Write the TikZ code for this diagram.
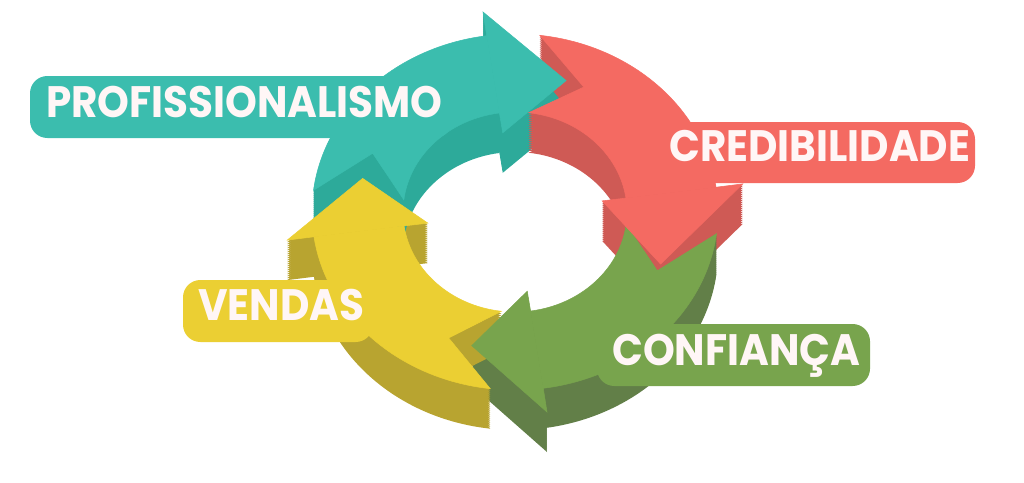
\documentclass[tikz,border=0pt]{standalone}
\usepackage{fontspec}
\newfontfamily\lblfont{Poppins}[FakeStretch=0.92]
\definecolor{tealtop}{HTML}{3BBDAE}
\definecolor{tealdk}{HTML}{2DAA9A}
\definecolor{redtop}{HTML}{F46A62}
\definecolor{reddk}{HTML}{CF5A55}
\definecolor{greentop}{HTML}{78A44D}
\definecolor{greendk}{HTML}{627F48}
\definecolor{yeltop}{HTML}{EBCF33}
\definecolor{yeldk}{HTML}{B8A430}
\definecolor{lbltxt}{HTML}{FFF6F6}
% tail angle, head angle, notch angle
\newcommand\ringbody[3]{(#1:203 and 178) arc[start angle=#1, end angle=#2, x radius=203, y radius=178] -- (#2:112 and 100) arc[start angle=#2, end angle=#1, x radius=112, y radius=100] -- (#3:157 and 139) -- cycle}
% head angle, tip angle
\newcommand\ringhead[2]{(#1:203 and 178) -- (#1:230 and 202) -- (#2:157 and 139) -- (#1:88 and 80) -- (#1:112 and 100) -- cycle}
\begin{document}
\begin{tikzpicture}[x=0.75pt,y=-0.75pt,
    lbl/.style={font=\lblfont\bfseries\fontsize{33}{33}\selectfont,text=lbltxt,inner sep=0pt,anchor=base west},
    top/.style={fill=#1,draw=#1,line width=0.4pt}]
    \useasboundingbox (0,0) rectangle (1024,482);
    \begin{scope}[shift={(515,212)}]
        % head walls, behind the next tail
        \foreach \d in {2,4,...,40} {\fill[tealdk,shift={(0,\d)}] \ringhead{262}{289};}
        \foreach \d in {2,4,...,40} {\fill[reddk,shift={(0,\d)}] \ringhead{352}{382};}
        \foreach \d in {2,4,...,40} {\fill[greendk,shift={(0,\d)}] \ringhead{82}{106};}
        \foreach \d in {2,4,...,40} {\fill[yeldk,shift={(0,\d)}] \ringhead{172}{194};}
        % bodies
        \foreach \d in {2,4,...,40} {\fill[tealdk,shift={(0,\d)}] \ringbody{187}{262}{205};}
        \path[top=tealtop] \ringbody{187}{262}{205};
        \foreach \d in {2,4,...,40} {\fill[reddk,shift={(0,\d)}] \ringbody{277}{352}{296};}
        \path[top=redtop] \ringbody{277}{352}{296};
        \foreach \d in {2,4,...,40} {\fill[greendk,shift={(0,\d)}] \ringbody{7}{82}{25};}
        \path[top=greentop] \ringbody{7}{82}{25};
        \foreach \d in {2,4,...,40} {\fill[yeldk,shift={(0,\d)}] \ringbody{97}{172}{115};}
        \path[top=yeltop] \ringbody{97}{172}{115};
        % head tops
        \path[top=tealtop] \ringhead{262}{289};
        \path[top=redtop] \ringhead{352}{382};
        \path[top=greentop] \ringhead{82}{106};
        \path[top=yeltop] \ringhead{172}{194};
    \end{scope}
    % labels
    \fill[tealtop,rounded corners=13] (30,76) rectangle (452,138);
    \node[lbl] (prof) at (46,117) {PROFISSIONALISMO};
    \fill[redtop,rounded corners=13] (655,122) rectangle (975,183);
    \node[lbl] (cred) at (669,161) {CREDIBILIDADE};
    \fill[greentop,rounded corners=13] (597,324) rectangle (870,386);
    \node[lbl] (conf) at (612,365) {CONFIANÇA};
    \fill[yeltop,rounded corners=13] (183,280) rectangle (373,342);
    \node[lbl] (vend) at (198,320) {VENDAS};
\end{tikzpicture}
\end{document}
